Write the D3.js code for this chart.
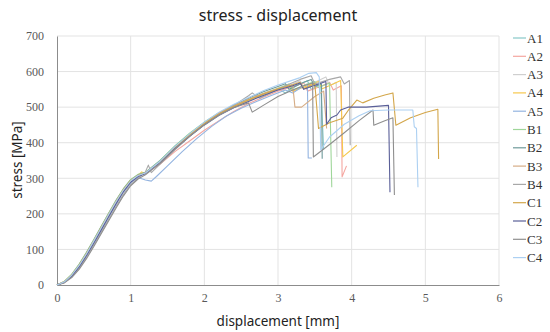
<!DOCTYPE html>
<html>
<head>
<meta charset="utf-8">
<script src="https://cdn.jsdelivr.net/npm/d3@7"></script>
<style>
  body{margin:0;background:#fff}
  svg{display:block}
  .serif{font-family:"Liberation Serif","Times New Roman",serif}
</style>
</head>
<body>
<svg id="chart" width="550" height="332"></svg>
<script>
const seriesNames = ["A1","A2","A3","A4","A5","B1","B2","B3","B4","C1","C2","C3","C4"]
const seriesColors = ["#86c8c8","#f4a6a0","#cfcfcf","#f6c84c","#94b4e0","#9fd69a","#6f9a9a","#d6ad86","#a8a8a8","#d3a64a","#5a5f98","#8f8f8f","#acd0f2"]
const xTicks = [0,1,2,3,4,5,6]
const yTicks = [0,100,200,300,400,500,600,700]

const A1 = [[0,0],[0.1,10],[0.2,30],[0.3,58],[0.4,92],[0.5,128],[0.6,165],[0.7,202],[0.8,238],[0.9,270],[1.0,296],[1.1,310],[1.2,316],[1.4,350],[1.6,390],[1.8,425],[2.0,456],[2.2,482],[2.4,503],[2.6,520],[2.8,537],[3.0,552],[3.1,540],[3.25,560],[3.4,574],[3.45,550],[3.58,565],[3.62,380]]
const A2 = [[0,0],[0.1,8],[0.2,26],[0.3,52],[0.4,85],[0.5,120],[0.6,157],[0.7,194],[0.8,230],[0.9,263],[1.0,290],[1.1,306],[1.2,314],[1.4,340],[1.6,375],[1.8,405],[2.0,435],[2.2,462],[2.4,488],[2.6,510],[2.8,528],[3.0,545],[3.2,558],[3.35,568],[3.4,545],[3.6,560],[3.7,570],[3.75,548],[3.86,560],[3.87,304],[3.93,335]]
const A3 = [[0,0],[0.1,9],[0.2,28],[0.3,55],[0.4,88],[0.5,124],[0.6,161],[0.7,198],[0.8,234],[0.9,267],[1.0,293],[1.1,308],[1.2,315],[1.4,346],[1.6,386],[1.8,421],[2.0,452],[2.2,479],[2.4,500],[2.6,518],[2.8,535],[3.0,550],[3.2,565],[3.3,574],[3.35,555],[3.55,575],[3.65,585],[3.7,560],[3.79,570],[3.8,360]]
const A4 = [[0,0],[0.1,10],[0.2,29],[0.3,57],[0.4,90],[0.5,126],[0.6,163],[0.7,200],[0.8,236],[0.9,269],[1.0,295],[1.1,309],[1.15,318],[1.2,313],[1.4,348],[1.6,388],[1.8,423],[2.0,455],[2.2,481],[2.4,501],[2.6,520],[2.8,536],[3.0,552],[3.15,562],[3.2,545],[3.4,560],[3.55,572],[3.6,552],[3.75,565],[3.85,575],[3.88,360],[4.07,393]]
const A5 = [[0,0],[0.1,8],[0.2,25],[0.3,50],[0.4,82],[0.5,117],[0.6,153],[0.7,190],[0.8,226],[0.9,260],[1.0,287],[1.1,302],[1.2,295],[1.28,292],[1.35,305],[1.5,335],[1.7,375],[1.9,412],[2.1,446],[2.3,475],[2.5,497],[2.7,515],[2.9,532],[3.1,548],[3.2,540],[3.35,560],[3.4,565],[3.41,357],[3.46,357]]
const B1 = [[0,0],[0.1,10],[0.2,30],[0.3,58],[0.4,91],[0.5,127],[0.6,164],[0.7,201],[0.8,237],[0.9,270],[1.0,296],[1.1,311],[1.2,317],[1.4,350],[1.6,391],[1.8,427],[2.0,458],[2.2,484],[2.4,504],[2.6,521],[2.8,538],[3.0,553],[3.15,565],[3.2,548],[3.4,565],[3.5,572],[3.55,555],[3.7,568],[3.73,275]]
const B2 = [[0,0],[0.1,9],[0.2,28],[0.3,56],[0.4,89],[0.5,125],[0.6,162],[0.7,199],[0.8,235],[0.9,268],[1.0,294],[1.1,309],[1.2,316],[1.4,349],[1.6,389],[1.8,424],[2.0,456],[2.2,483],[2.4,506],[2.6,525],[2.8,543],[3.0,558],[3.1,566],[3.15,550],[3.35,570],[3.45,578],[3.5,558],[3.59,566],[3.6,355]]
const B3 = [[0,0],[0.1,9],[0.2,27],[0.3,54],[0.4,87],[0.5,122],[0.6,159],[0.7,196],[0.8,232],[0.9,265],[1.0,292],[1.1,307],[1.2,314],[1.4,346],[1.6,386],[1.8,422],[2.0,455],[2.2,484],[2.4,504],[2.6,522],[2.8,538],[3.0,552],[3.2,562],[3.23,500],[3.32,500],[3.5,530],[3.62,545],[3.66,440]]
const B4 = [[0,0],[0.1,7],[0.2,23],[0.3,47],[0.4,78],[0.5,112],[0.6,148],[0.7,184],[0.8,220],[0.9,254],[1.0,282],[1.1,300],[1.2,318],[1.24,337],[1.28,316],[1.4,340],[1.6,380],[1.8,418],[2.0,452],[2.2,480],[2.4,505],[2.6,532],[2.65,540],[2.75,525],[2.9,540],[3.1,560],[3.3,578],[3.45,588],[3.5,565],[3.7,578],[3.85,585],[3.9,565],[3.97,575],[3.98,393]]
const C1 = [[0,0],[0.1,9],[0.2,28],[0.3,56],[0.4,89],[0.5,125],[0.6,162],[0.7,199],[0.8,235],[0.9,268],[1.0,294],[1.1,309],[1.2,315],[1.4,347],[1.6,387],[1.8,422],[2.0,454],[2.2,481],[2.4,502],[2.6,520],[2.8,537],[3.0,551],[3.2,563],[3.3,570],[3.35,552],[3.5,566],[3.55,440],[3.7,456],[3.88,469],[3.95,490],[4.07,520],[4.15,512],[4.3,525],[4.45,534],[4.56,540],[4.6,449],[4.8,470],[5.0,485],[5.17,494],[5.18,354]]
const C2 = [[0,0],[0.1,8],[0.2,25],[0.3,51],[0.4,83],[0.5,118],[0.6,155],[0.7,192],[0.8,228],[0.9,262],[1.0,289],[1.1,305],[1.2,313],[1.4,344],[1.6,383],[1.8,418],[2.0,450],[2.2,477],[2.4,498],[2.6,516],[2.8,533],[3.0,548],[3.2,560],[3.3,568],[3.35,550],[3.55,565],[3.65,572],[3.66,452],[3.72,470],[3.8,478],[3.85,492],[3.95,500],[4.2,500],[4.5,505],[4.52,261]]
const C3 = [[0,0],[0.1,6],[0.2,21],[0.3,44],[0.4,74],[0.5,108],[0.6,144],[0.7,180],[0.8,216],[0.9,250],[1.0,279],[1.1,298],[1.2,310],[1.4,342],[1.6,382],[1.8,418],[2.0,450],[2.2,477],[2.4,499],[2.6,512],[2.65,486],[2.8,505],[3.0,530],[3.2,548],[3.35,560],[3.47,568],[3.48,360],[3.7,395],[3.9,428],[4.1,462],[4.29,492],[4.3,449],[4.45,462],[4.56,470],[4.58,253]]
const C4 = [[0,0],[0.1,9],[0.2,28],[0.3,55],[0.4,88],[0.5,124],[0.6,161],[0.7,198],[0.8,234],[0.9,267],[1.0,293],[1.1,308],[1.2,315],[1.4,348],[1.6,389],[1.8,425],[2.0,458],[2.2,486],[2.4,508],[2.6,527],[2.8,546],[3.0,562],[3.2,576],[3.3,583],[3.42,595],[3.52,597],[3.56,585],[3.58,380],[3.7,416],[3.9,452],[4.1,476],[4.25,490],[4.5,492],[4.83,492],[4.85,445],[4.88,440],[4.9,275]]

const seriesData = [A1,A2,A3,A4,A5,B1,B2,B3,B4,C1,C2,C3,C4]

const margin = {left:57, right:499, top:36, bottom:285}
const svg = d3.select("#chart")

const x = d3.scaleLinear().domain([0,6]).range([margin.left, margin.right])
const y = d3.scaleLinear().domain([0,700]).range([margin.bottom, margin.top])

// grid
svg.append("g").selectAll("line").data(xTicks.slice(1)).join("line")
    .attr("x1",d=>x(d)).attr("x2",d=>x(d))
    .attr("y1",y(0)).attr("y2",y(700))
    .attr("stroke","#e3e3e3")
svg.append("g").selectAll("line").data(yTicks.slice(1)).join("line")
    .attr("x1",x(0)).attr("x2",x(6))
    .attr("y1",d=>y(d)).attr("y2",d=>y(d))
    .attr("stroke","#e3e3e3")

// axes
const xAxis = svg.append("g")
    .attr("transform","translate(0,"+y(0)+")")
    .call(d3.axisBottom(x).tickValues(xTicks).tickFormat(d3.format("d")).tickSize(0).tickPadding(8))
const yAxis = svg.append("g")
    .attr("transform","translate("+x(0)+",0)")
    .call(d3.axisLeft(y).tickValues(yTicks).tickFormat(d3.format("d")).tickSize(0).tickPadding(13))
;[xAxis,yAxis].forEach(a=>{
  a.attr("font-family",null).attr("font-size",null)
  a.select(".domain").attr("stroke","#8c8c8c")
  a.selectAll("text")
    .attr("class","serif")
    .style("font-size","12px")
    .attr("fill","#595959")
})

// series
const line = d3.line().x(d=>x(d[0])).y(d=>y(d[1]))
svg.append("g").selectAll("path").data(seriesData).join("path")
    .attr("d",line)
    .attr("fill","none")
    .attr("stroke",(d,i)=>seriesColors[i])
    .attr("stroke-width",1.1)
    .attr("stroke-linejoin","round")

// titles
svg.append("text")
    .attr("x",278).attr("y",21)
    .attr("text-anchor","middle")
    .style("font-family","'Noto Sans',sans-serif")
    .style("font-size","16px")
    .attr("fill","#222")
    .text("stress - displacement")
svg.append("text")
    .attr("x",278).attr("y",326)
    .attr("text-anchor","middle")
    .style("font-family","'Noto Sans',sans-serif")
    .style("font-size","13.5px")
    .attr("fill","#222")
    .text("displacement [mm]")
svg.append("text")
    .attr("transform","translate(22,160) rotate(-90)")
    .attr("text-anchor","middle")
    .style("font-family","'Noto Sans',sans-serif")
    .style("font-size","13.5px")
    .attr("fill","#222")
    .text("stress [MPa]")

// legend
const legend = svg.append("g").selectAll("g").data(seriesNames).join("g")
    .attr("transform",(d,i)=>"translate(513,"+(38+i*18.3)+")")
legend.append("line")
    .attr("x1",0).attr("x2",13)
    .attr("stroke",(d,i)=>seriesColors[i])
    .attr("stroke-width",1.2)
legend.append("text")
    .attr("class","serif")
    .attr("x",14).attr("y",4.5)
    .style("font-size","13px")
    .attr("fill","#333")
    .text(d=>d)
</script>
</body>
</html>
